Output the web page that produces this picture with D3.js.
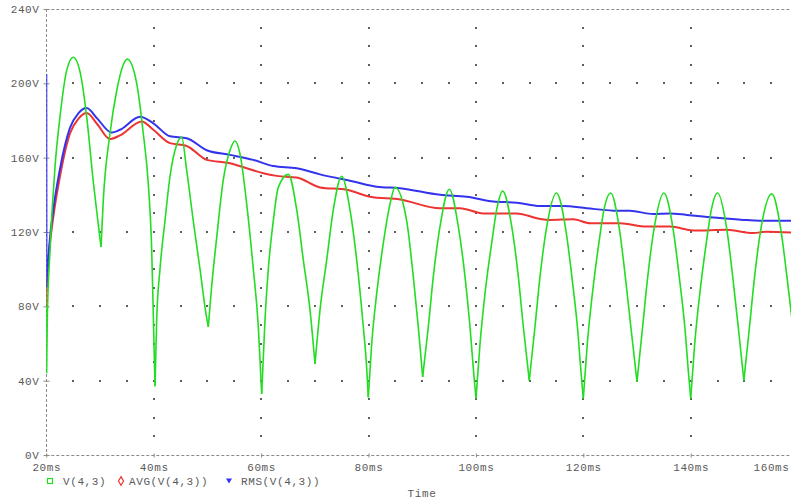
<!DOCTYPE html>
<html>
<head>
<meta charset="utf-8">
<script src="https://cdn.jsdelivr.net/npm/d3@7"></script>
<style>
  body { margin: 0; background: #fff; }
</style>
</head>
<body>
<div id="chart"></div>
<script>
// tick labels
var timeTicks = [20, 40, 60, 80, 100, 120, 140, 160];
var voltTicks = [0, 40, 80, 120, 160, 200, 240];
var legendNames = ["V(4,3)", "AVG(V(4,3))", "RMS(V(4,3))"];

// V(4,3): [time ms, volts]
var vData = [
  [20, 80], [20.03, 44], [20.19, 74], [20.69, 110], [21.62, 155], [22.55, 182], [23.8, 207], [25.03, 214],
  [26.3, 206], [27.52, 182], [28.75, 147], [29.68, 124], [30.19, 112],
  [30.61, 137], [31.86, 173], [33.11, 196], [34.34, 210], [35.08, 213],
  [36.83, 200], [38.06, 173], [38.99, 146], [39.63, 110], [39.93, 75], [40.24, 37],
  [40.56, 73], [41.17, 100], [42.1, 126], [43.04, 150], [44.28, 167], [45.21, 171],
  [46.15, 153], [47.37, 126], [48.62, 100], [49.74, 76], [50.17, 69],
  [50.8, 91], [51.73, 117], [52.96, 148], [54.21, 164], [55.14, 169],
  [56.07, 162], [57.32, 135], [58.55, 100], [59.48, 69], [59.9, 45], [60.11, 33],
  [60.73, 73], [61.34, 100], [62.27, 126], [63.2, 144], [65.07, 151],
  [66.63, 132], [67.86, 105], [69.11, 78], [70.04, 49],
  [70.97, 78], [72.22, 105], [73.45, 132], [75.01, 150],
  [76.55, 132], [77.8, 105], [79.03, 69], [79.66, 47], [79.96, 31],
  [80.6, 60], [81.53, 87], [82.76, 114], [84.0, 135], [84.94, 144],
  [87.11, 126], [88.34, 96], [89.27, 69], [90.09, 42],
  [91.14, 69], [92.07, 96], [93.32, 123], [95.05, 143],
  [96.72, 123], [97.97, 96], [98.9, 69], [99.65, 42], [100.02, 30.5],
  [100.77, 60], [101.7, 87], [102.94, 114], [103.87, 132], [104.99, 142],
  [106.67, 123], [107.9, 96], [108.83, 69], [109.94, 40],
  [111.0, 69], [111.94, 96], [113.2, 123], [115.0, 141],
  [116.7, 122], [117.95, 94], [118.9, 69], [119.65, 42], [120.0, 30.5],
  [120.75, 60], [121.7, 87], [122.9, 114], [123.85, 132], [125.1, 141],
  [126.7, 122], [127.9, 94], [128.85, 69], [130.0, 39.5],
  [131.05, 69], [132.0, 96], [133.25, 123], [135.0, 141],
  [136.7, 122], [137.95, 94], [138.9, 69], [139.65, 42], [140.0, 30.5],
  [140.75, 60], [141.7, 87], [142.9, 114], [143.85, 132], [145.0, 141],
  [146.7, 122], [147.9, 94], [148.85, 69], [149.9, 40],
  [150.95, 69], [151.9, 96], [153.15, 123], [155.1, 140.5],
  [156.8, 121], [158.0, 94], [158.7, 77], [159.2, 64]
];

// AVG(V(4,3))
var avgData = [
  [20, 80], [20.05, 88], [20.56, 110], [21.3, 128], [22.55, 150], [24.41, 173], [26, 181], [27.52, 184],
  [29.5, 178], [31.86, 170], [33.72, 172], [37.77, 179.5], [39.93, 175], [43.04, 167.8], [46.15, 166.3],
  [49.87, 158.8], [54.21, 157], [57.32, 154.3], [60.41, 151.6], [62.9, 150.2], [66.63, 149.3], [70.97, 144],
  [75.94, 142.7], [80.28, 139], [85.87, 137.5], [93.32, 132.8], [97.04, 132.8], [101.38, 130], [107.6, 130],
  [111.94, 127], [113.8, 126.5], [118.14, 126.9], [121.25, 124.7], [126.84, 124.7], [131.81, 122.9],
  [136.14, 122.9], [140.48, 120.8], [146.7, 121.2], [151.66, 119.4], [154.15, 120.2], [158.68, 119.7]
];

// RMS(V(4,3))
var rmsData = [
  [20, 205], [20.05, 90], [20.56, 113], [21.3, 132], [22.55, 154], [24.41, 176], [26, 184], [27.52, 186.7],
  [29.5, 181], [32.18, 173.5], [33.72, 175], [37.45, 182], [39.93, 178.5], [43.04, 171.5], [46.15, 170.5],
  [49.87, 164], [54.21, 161.5], [58.55, 158.8], [62.27, 155.5], [66.63, 154.3], [70.97, 151], [77.17, 147.2],
  [81.53, 144.4], [85.87, 143.6], [93.32, 140], [98.29, 139], [103.24, 136.4], [107.6, 135.8], [111.94, 134],
  [116.28, 134], [120.63, 132.8], [125.59, 131.5], [128.7, 131.4], [133.03, 129.7], [136.14, 130],
  [139.25, 129.2], [143.6, 128], [149.8, 126.5], [152.91, 126.1], [158.68, 126.1]
];

var width = 791, height = 500;
var font = "'Liberation Mono', 'Courier New', monospace";
var fontSize = 11, letterSpacing = 0.6;
var textColor = "#5a5a5a";
var frameColor = "#8a8a8a";
var colors = ["#22dd22", "#ee3333", "#3333ee"];

var svg = d3.select("#chart")
  .append("svg")
    .attr("width", width)
    .attr("height", height)
    .style("background", "#fff");

var x = d3.scaleLinear().domain([20, 160]).range([46.3, 798.1]);
var y = d3.scaleLinear().domain([0, 240]).range([455, 9]);

function styleText(sel) {
  sel.attr("font-family", font)
    .attr("font-size", fontSize)
    .attr("letter-spacing", letterSpacing)
    .attr("fill", textColor);
}

// dotted grid: along each volt row every 5ms, along each time column every 10V
var dots = [];
voltTicks.slice(1, -1).forEach(function(v) {
  d3.range(25, 160, 5).forEach(function(t) { dots.push([t, v]); });
});
timeTicks.slice(1).forEach(function(t) {
  d3.range(10, 240, 10).forEach(function(v) { dots.push([t, v]); });
});
svg.append("g")
  .selectAll("rect")
  .data(dots)
  .join("rect")
    .attr("x", function(d) { return Math.round(x(d[0])) - 1; })
    .attr("y", function(d) { return Math.round(y(d[1])) - 1; })
    .attr("width", 2)
    .attr("height", 2)
    .attr("fill", "#5e5e5e");

// dashed frame
var frame = svg.append("g")
  .attr("stroke", frameColor)
  .attr("stroke-width", 1)
  .attr("stroke-dasharray", "3,2");
frame.append("line")
  .attr("x1", x(20)).attr("x2", width)
  .attr("y1", Math.round(y(240)) + 0.5).attr("y2", Math.round(y(240)) + 0.5);
frame.append("line")
  .attr("x1", x(20)).attr("x2", width)
  .attr("y1", Math.round(y(0)) + 0.5).attr("y2", Math.round(y(0)) + 0.5);
frame.append("line")
  .attr("x1", Math.round(x(20)) + 0.5).attr("x2", Math.round(x(20)) + 0.5)
  .attr("y1", y(240)).attr("y2", y(0));

// Y axis
var yAxis = svg.append("g")
  .attr("transform", "translate(" + (Math.round(x(20)) + 0.5) + ",0)")
  .call(d3.axisLeft(y).tickValues(voltTicks).tickFormat(function(d) { return d + "V"; }).tickSize(3).tickPadding(4));
yAxis.select(".domain").remove();
yAxis.selectAll(".tick line").attr("x1", -3).attr("x2", 3).attr("stroke", frameColor);
yAxis.selectAll("text").call(styleText);

// X axis
var xAxis = svg.append("g")
  .attr("transform", "translate(0," + (Math.round(y(0)) + 0.5) + ")")
  .call(d3.axisBottom(x).tickValues(timeTicks).tickFormat(function(d) { return d + "ms"; }).tickSize(2).tickPadding(6));
xAxis.select(".domain").remove();
xAxis.selectAll(".tick line").attr("y1", -2).attr("y2", 2).attr("stroke", frameColor);
xAxis.selectAll("text").call(styleText)
  .attr("x", function(d) { return Math.min(0, 771 - x(d)); });

// traces
svg.append("clipPath").attr("id", "plot")
  .append("rect").attr("x", x(20)).attr("y", 0).attr("width", width - x(20)).attr("height", y(0) + 3);

var line = d3.line()
  .x(function(d) { return x(d[0]); })
  .y(function(d) { return y(d[1]); })
  .curve(d3.curveMonotoneX);

// split the V trace at its valleys so the cusps stay sharp
function splitAtValleys(pts) {
  var segs = [], cur = [pts[0]];
  for (var i = 1; i < pts.length; i++) {
    cur.push(pts[i]);
    if (i < pts.length - 1 && pts[i][1] < pts[i - 1][1] && pts[i][1] < pts[i + 1][1]) {
      segs.push(cur);
      cur = [pts[i]];
    }
  }
  segs.push(cur);
  return segs;
}

var traces = svg.append("g").attr("clip-path", "url(#plot)").attr("fill", "none");

traces.append("path")
  .datum(avgData)
  .attr("stroke", colors[1])
  .attr("stroke-width", 2)
  .attr("d", line);

traces.append("path")
  .datum(rmsData)
  .attr("stroke", colors[2])
  .attr("stroke-width", 2)
  .attr("d", line);

traces.selectAll(".vseg")
  .data(splitAtValleys(vData))
  .join("path")
    .attr("class", "vseg")
    .attr("stroke", colors[0])
    .attr("stroke-width", 1.6)
    .attr("d", line);

// legend
var legendX = [50, 121, 229];
var legendTextX = [63, 129, 241];
var legendY = 481;
var legend = svg.append("g");
legend.append("rect")
  .attr("x", legendX[0] - 2.5).attr("y", legendY - 2.5)
  .attr("width", 5).attr("height", 5)
  .attr("fill", "none").attr("stroke", colors[0]).attr("stroke-width", 1.2);
legend.append("path")
  .attr("d", d3.symbol(d3.symbolDiamond, 22)())
  .attr("transform", "translate(" + legendX[1] + "," + legendY + ")")
  .attr("fill", "none").attr("stroke", colors[1]).attr("stroke-width", 1.2);
legend.append("path")
  .attr("d", "M-3,-2.5L3,-2.5L0,2.5Z")
  .attr("transform", "translate(" + legendX[2] + "," + legendY + ")")
  .attr("fill", colors[2]);
legend.selectAll("text")
  .data(legendNames)
  .join("text")
    .attr("x", function(d, i) { return legendTextX[i]; })
    .attr("y", legendY + 4)
    .call(styleText)
    .text(function(d) { return d; });

svg.append("text")
  .attr("x", 422)
  .attr("y", 497)
  .attr("text-anchor", "middle")
  .call(styleText)
  .text("Time");
</script>
</body>
</html>
